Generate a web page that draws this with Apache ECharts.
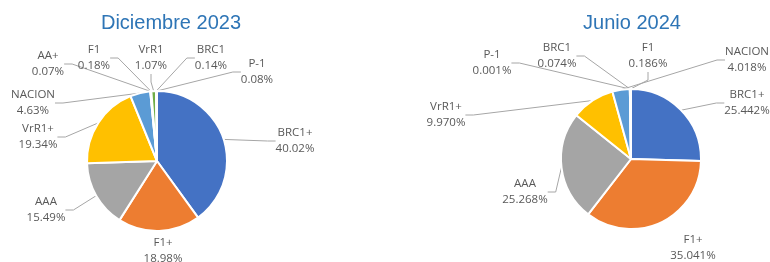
<!DOCTYPE html>
<html>
<head>
<meta charset="utf-8">
<script src="https://cdn.jsdelivr.net/npm/echarts@6/dist/echarts.min.js"></script>
<style>
  html, body { margin: 0; padding: 0; background: #fff; }
  #chart { width: 770px; height: 262px; }
</style>
</head>
<body>
<div id="chart"></div>
<script>
// datos
var names1 = ['BRC1+', 'F1+', 'AAA', 'VrR1+', 'NACION', 'AA+', 'F1', 'VrR1', 'BRC1', 'P-1'];
var values1 = [40.02, 18.98, 15.49, 19.34, 4.63, 0.07, 0.18, 1.07, 0.14, 0.08];
var names2 = ['BRC1+', 'F1+', 'AAA', 'VrR1+', 'NACION', 'P-1', 'BRC1', 'F1'];
var values2 = [25.442, 35.041, 25.268, 9.970, 4.018, 0.001, 0.074, 0.186];

var colors1 = ['#4472C4', '#ED7D31', '#A5A5A5', '#FFC000', '#5B9BD5', '#264478', '#9E480E', '#70AD47', '#636363', '#997300'];
var colors2 = ['#4472C4', '#ED7D31', '#A5A5A5', '#FFC000', '#5B9BD5', '#264478', '#9E480E', '#636363'];

// etiquetas sin linea guia
var noLine = ['F1+'];

// posiciones de etiquetas (centro del texto)
var labelPos1 = [[295, 141], [163, 251], [46, 210], [38, 137], [33, 103], [48, 64], [94, 58], [151, 58], [211, 58], [257, 72]];
var labelPos2 = [[747, 103], [693, 248], [525, 192], [446, 115], [747, 60], [492, 63], [557, 56], [648, 56]];

function buildData(names, values, colors) {
    return names.map(function (n, i) {
        return {
            name: n,
            value: values[i],
            itemStyle: { color: colors[i] },
            labelLine: { show: noLine.indexOf(n) < 0 }
        };
    });
}

function pieSeries(names, values, colors, center, pos, dec) {
    return {
        type: 'pie',
        center: center,
        radius: 70,
        startAngle: 90,
        clockwise: true,
        avoidLabelOverlap: false,
        minShowLabelAngle: 0,
        itemStyle: { borderColor: '#fff', borderWidth: 2 },
        label: {
            show: true,
            color: '#595959',
            fontFamily: 'Open Sans',
            fontSize: 11.5,
            lineHeight: 16,
            formatter: function (p) {
                return p.name + '\n' + p.value.toFixed(dec) + '%';
            }
        },
        labelLine: {
            show: true,
            length: 8,
            length2: 8,
            lineStyle: { color: '#A6A6A6', width: 1 }
        },
        labelLayout: function (p) {
            var xy = pos[p.dataIndex];
            return { x: xy[0], y: xy[1], align: 'center', verticalAlign: 'middle' };
        },
        emphasis: { disabled: true },
        data: buildData(names, values, colors)
    };
}

var myChart = echarts.init(document.getElementById('chart'));
var option = {
    animation: false,
    title: [
        {
            text: 'Diciembre 2023',
            left: 166, top: 8, textAlign: 'center',
            textStyle: { color: '#2E75B6', fontSize: 20, fontWeight: 'normal', fontFamily: 'Liberation Sans' }
        },
        {
            text: 'Junio 2024',
            left: 627, top: 8, textAlign: 'center',
            textStyle: { color: '#2E75B6', fontSize: 20, fontWeight: 'normal', fontFamily: 'Liberation Sans' }
        }
    ],
    series: [
        pieSeries(names1, values1, colors1, [157, 161], labelPos1, 2),
        pieSeries(names2, values2, colors2, [631, 159], labelPos2, 3)
    ]
};
myChart.setOption(option);
</script>
</body>
</html>
